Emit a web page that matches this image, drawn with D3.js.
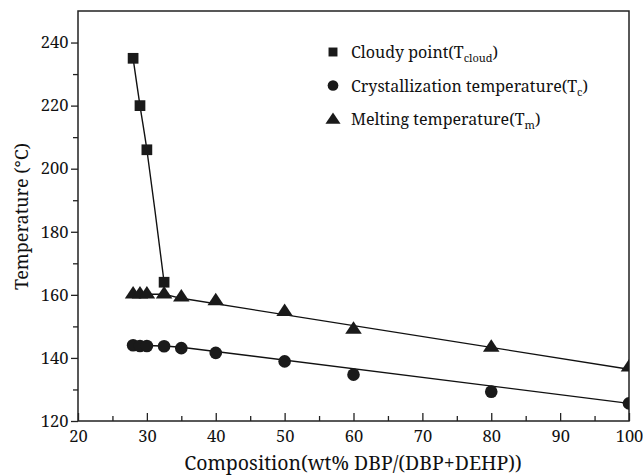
<!DOCTYPE html>
<html>
<head>
<meta charset="utf-8">
<script src="https://cdn.jsdelivr.net/npm/d3@7"></script>
<style>
  html, body { margin: 0; padding: 0; background: #fff; }
  svg { display: block; }
</style>
</head>
<body>
<svg id="chart" width="643" height="476"></svg>
<script>
// Composition in wt% DBP/(DBP+DEHP)
const cloudX = [28, 29, 30, 32.5];
const cloudT = [235, 220, 206, 164];

const tcX = [28, 29, 30, 32.5, 35, 40, 50, 60, 80, 100];
const tcT = [144, 143.8, 143.8, 143.7, 143.1, 141.6, 138.9, 134.7, 129.3, 125.6];

const tmX = [28, 29, 30, 32.5, 35, 40, 50, 60, 80, 100];
const tmT = [160.2, 160.2, 160.2, 160.2, 159.2, 158, 154.6, 149, 143.3, 137];

// Trend lines: flat run through the low-DBP points, then the linear fit
const tcFitX = [28, 32.5, 35, 100];
const tcFitT = [144, 143.8, 143.4, 125.6];
const tmFitX = [28, 32.5, 35, 100];
const tmFitT = [160.2, 160.2, 158.9, 136.4];

const xTicks = [20, 30, 40, 50, 60, 70, 80, 90, 100];
const xMinor = [25, 35, 45, 55, 65, 75, 85, 95];
const yTicks = [120, 140, 160, 180, 200, 220, 240];
const yMinor = [130, 150, 170, 190, 210, 230];

const legendLabels = [
  { main: "Cloudy point(T", sub: "cloud", tail: ")", shape: "square" },
  { main: "Crystallization temperature(T", sub: "c", tail: ")", shape: "circle" },
  { main: "Melting temperature(T", sub: "m", tail: ")", shape: "triangle" }
];

const FONT = '"Noto Serif", "Liberation Serif", serif';

const svg = d3.select("#chart");
const m = { left: 78, right: 629, top: 11, bottom: 421 };

const x = d3.scaleLinear().domain([20, 100]).range([m.left, m.right]);
const y = d3.scaleLinear().domain([120, 250]).range([m.bottom, m.top]);

svg.append("defs").append("clipPath").attr("id", "plotclip")
  .append("rect").attr("x", m.left).attr("y", m.top)
  .attr("width", m.right - m.left).attr("height", m.bottom - m.top);

// Frame
svg.append("rect")
  .attr("x", m.left).attr("y", m.top)
  .attr("width", m.right - m.left).attr("height", m.bottom - m.top)
  .attr("fill", "none").attr("stroke", "#222").attr("stroke-width", 1.5);

// X axis: ticks point into the plot
const xAxis = svg.append("g").attr("transform", `translate(0,${m.bottom})`);
xAxis.call(d3.axisBottom(x).tickValues(xTicks).tickSize(-8).tickPadding(9.5).tickSizeOuter(0));
xAxis.append("g").call(d3.axisBottom(x).tickValues(xMinor).tickSize(-5).tickFormat("").tickSizeOuter(0));

// Y axis: ticks point outwards
const yAxis = svg.append("g").attr("transform", `translate(${m.left},0)`);
yAxis.call(d3.axisLeft(y).tickValues(yTicks).tickSize(7).tickPadding(2.5).tickSizeOuter(0));
yAxis.append("g").call(d3.axisLeft(y).tickValues(yMinor).tickSize(5).tickFormat("").tickSizeOuter(0));

svg.selectAll(".domain").remove();
svg.selectAll(".tick line").attr("stroke", "#222").attr("stroke-width", 1.3);
svg.selectAll(".tick text")
  .style("font-family", FONT)
  .attr("font-size", 16.5).attr("fill", "#111");

// Axis titles
svg.append("text")
  .attr("x", 353).attr("y", 470)
  .attr("text-anchor", "middle").attr("font-size", 19.5).attr("fill", "#111")
  .style("font-family", FONT)
  .text("Composition(wt% DBP/(DBP+DEHP))");

svg.append("text")
  .attr("transform", "translate(28,216.5) rotate(-90)")
  .attr("text-anchor", "middle").attr("font-size", 18).attr("fill", "#111")
  .style("font-family", FONT)
  .text("Temperature (°C)");

const plot = svg.append("g").attr("clip-path", "url(#plotclip)");

// Trend curves
plot.append("path")
  .datum(d3.zip(cloudX, cloudT))
  .attr("d", d3.line().x(d => x(d[0])).y(d => y(d[1])).curve(d3.curveCatmullRom.alpha(0.5)))
  .attr("fill", "none").attr("stroke", "#111").attr("stroke-width", 1.4);

[[tcFitX, tcFitT], [tmFitX, tmFitT]].forEach(([xs, ts]) => {
  plot.append("path")
    .datum(d3.zip(xs, ts))
    .attr("d", d3.line().x(d => x(d[0])).y(d => y(d[1])))
    .attr("fill", "none").attr("stroke", "#111").attr("stroke-width", 1.4);
});

// Markers
const sym = {
  square: d3.symbol().type(d3.symbolSquare).size(115),
  circle: d3.symbol().type(d3.symbolCircle).size(125),
  triangle: d3.symbol().type(d3.symbolTriangle).size(90)
};

plot.selectAll(".cloud").data(d3.zip(cloudX, cloudT)).join("path")
  .attr("class", "cloud")
  .attr("transform", d => `translate(${x(d[0])},${y(d[1])})`)
  .attr("d", sym.square()).attr("fill", "#1a1a1a");

plot.selectAll(".tc").data(d3.zip(tcX, tcT)).join("path")
  .attr("class", "tc")
  .attr("transform", d => `translate(${x(d[0])},${y(d[1])})`)
  .attr("d", sym.circle()).attr("fill", "#1a1a1a");

plot.selectAll(".tm").data(d3.zip(tmX, tmT)).join("path")
  .attr("class", "tm")
  .attr("transform", d => `translate(${x(d[0])},${y(d[1])}) scale(1.15,1)`)
  .attr("d", sym.triangle()).attr("fill", "#1a1a1a");

// Legend
const lg = svg.append("g").attr("transform", "translate(333,52)");
legendLabels.forEach((l, i) => {
  const row = lg.append("g").attr("transform", `translate(0,${i * 33.5})`);
  const s = l.shape === "square" ? d3.symbol().type(d3.symbolSquare).size(80)
          : l.shape === "circle" ? d3.symbol().type(d3.symbolCircle).size(90)
          : d3.symbol().type(d3.symbolTriangle).size(75);
  row.append("path").attr("d", s())
    .attr("transform", l.shape === "triangle" ? "translate(0,1) scale(1.15,1)" : null)
    .attr("fill", "#1a1a1a");
  const t = row.append("text").attr("x", 18).attr("y", 6)
    .style("font-family", FONT)
    .attr("font-size", 16).attr("fill", "#111");
  t.append("tspan").text(l.main);
  t.append("tspan").attr("font-size", 11).attr("dy", 4).text(l.sub);
  t.append("tspan").attr("dy", -4).text(l.tail);
});
</script>
</body>
</html>
